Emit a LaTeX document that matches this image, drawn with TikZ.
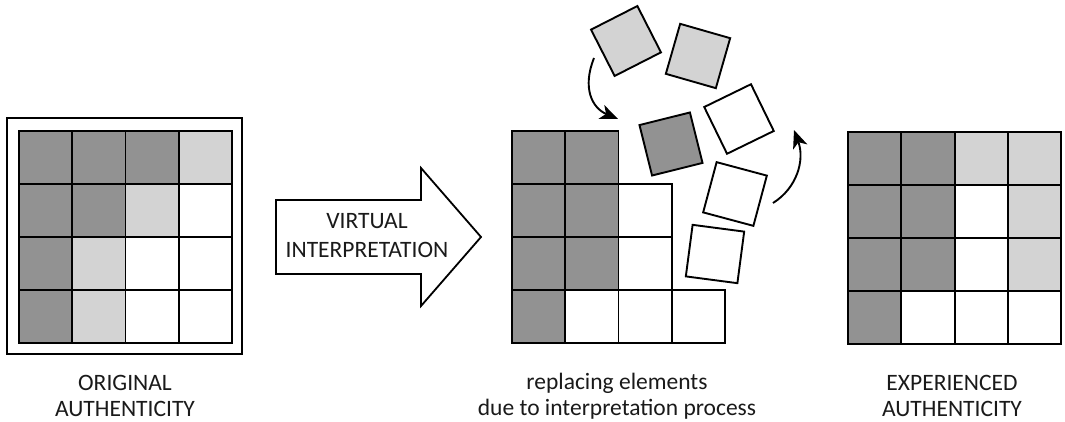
\documentclass[tikz,border=0pt]{standalone}
\usepackage{fontspec}
\setmainfont{Carlito}
\usetikzlibrary{arrows.meta}
\definecolor{darkc}{HTML}{929292}
\definecolor{lightc}{HTML}{D3D3D3}
\definecolor{txt}{HTML}{1A1A1A}
\tikzset{
  cellline/.style={draw=black, line width=1.9pt},
  fsq/.style={draw=black, line width=1.9pt, minimum size=52pt, inner sep=0pt, shape=rectangle},
  curvearrow/.style={line width=1.9pt, -{Stealth[length=18pt,width=15pt,inset=5pt]}},
  lbl/.style={font=\fontsize{23.5}{26}\selectfont, text=txt, align=center},
}
\begin{document}
\begin{tikzpicture}[x=1pt,y=-1pt]
\useasboundingbox (0,0) rectangle (1065,422);
\fill[white] (0,0) rectangle (1065,422);
% left grid
\draw[line width=1.8pt] (7,118) rectangle (242,354);
\foreach \c/\r/\f in {0/0/darkc,1/0/darkc,2/0/darkc,3/0/lightc,
                      0/1/darkc,1/1/darkc,2/1/lightc,3/1/white,
                      0/2/darkc,1/2/lightc,2/2/white,3/2/white,
                      0/3/darkc,1/3/lightc,2/3/white,3/3/white}{
  \fill[\f] ({19+53.25*\c},{131+53*\r}) rectangle ++(53.25,53);
}
\foreach \c/\r in {0/0,1/0,2/0,3/0,0/1,1/1,2/1,3/1,0/2,1/2,2/2,3/2,0/3,1/3,2/3,3/3}{
  \draw[cellline] ({19+53.25*\c},{131+53*\r}) rectangle ++(53.25,53);
}
% middle grid
\foreach \c/\r/\f in {0/0/darkc,1/0/darkc,
                      0/1/darkc,1/1/darkc,2/1/white,
                      0/2/darkc,1/2/darkc,2/2/white,
                      0/3/darkc,1/3/white,2/3/white,3/3/white}{
  \fill[\f] ({512+53.25*\c},{131+53*\r}) rectangle ++(53.25,53);
  \draw[cellline] ({512+53.25*\c},{131+53*\r}) rectangle ++(53.25,53);
}
% right grid
\foreach \c/\r/\f in {0/0/darkc,1/0/darkc,2/0/lightc,3/0/lightc,
                      0/1/darkc,1/1/darkc,2/1/white,3/1/lightc,
                      0/2/darkc,1/2/darkc,2/2/white,3/2/lightc,
                      0/3/darkc,1/3/white,2/3/white,3/3/white}{
  \fill[\f] ({848+53.3*\c},{132+53*\r}) rectangle ++(53.3,53);
}
\foreach \c/\r in {0/0,1/0,2/0,3/0,0/1,1/1,2/1,3/1,0/2,1/2,2/2,3/2,0/3,1/3,2/3,3/3}{
  \draw[cellline] ({848+53.3*\c},{132+53*\r}) rectangle ++(53.3,53);
}
% floating squares
\node[fsq, fill=lightc, rotate=27] (f1) at (626,41) {};
\node[fsq, fill=lightc, rotate=-16] (f2) at (698,56) {};
\node[fsq, fill=white, rotate=26] (f3) at (739,119) {};
\node[fsq, fill=darkc, rotate=14] (f4) at (671,144) {};
\node[fsq, fill=white, rotate=-15] (f5) at (735,194) {};
\node[fsq, fill=white, rotate=-7.5] (f6) at (715,254) {};
% curved arrows
\coordinate (a1s) at (594,58);
\coordinate (a1e) at (618,119);
\coordinate (a2s) at (773,203);
\coordinate (a2e) at (794,130);
\draw[curvearrow] (a1s) .. controls (582,88) and (592,108) .. (a1e);
\draw[curvearrow] (a2s) .. controls (797,188) and (805,160) .. (a2e);
% big arrow
\draw[line width=1.8pt, fill=white, line join=miter]
  (276,200) -- (421,200) -- (421,168) -- (481,237) -- (421,306) -- (421,274) -- (276,274) -- cycle;
\node[lbl, font=\fontsize{23.5}{29}\selectfont] (va) at (367,236) {VIRTUAL\\INTERPRETATION};
% labels
\node[lbl] (l1) at (125,396) {ORIGINAL\\AUTHENTICITY};
\node[lbl] (l2) at (617,396) {replacing elements\\due to interpretation process};
\node[lbl] (l3) at (952,396) {EXPERIENCED\\AUTHENTICITY};
\end{tikzpicture}
\end{document}
